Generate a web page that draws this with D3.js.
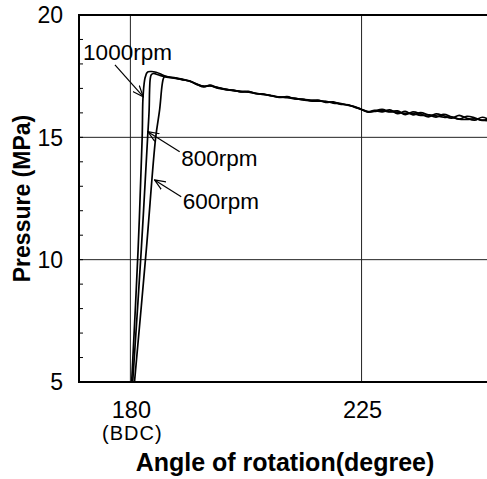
<!DOCTYPE html>
<html>
<head>
<meta charset="utf-8">
<script src="https://cdn.jsdelivr.net/npm/d3@7"></script>
<style>
  body { margin: 0; background: #fff; }
  svg { display: block; }
</style>
</head>
<body>
<svg id="chart"></svg>
<script>
const width = 487;
const height = 479;
const margins = { top: 15, right: -3, bottom: 97, left: 79 };

// x: angle of rotation (deg), y: pressure (MPa)
const xDomain = [170, 250];
const yDomain = [5, 20];
const xTicks = [180, 225];
const xTickSub = { 180: "(BDC)" };
const yTicks = [5, 10, 15, 20];
const xGrid = [180, 225];
const yGrid = [10, 15];

// readings: [angle, pressure]
const rpm1000 = [
  [180.25, 5.0], [181.5, 10.4], [182.3, 15.0], [182.45, 16.6], [182.77, 17.34],
  [182.96, 17.5], [183.16, 17.62], [183.45, 17.68], [184.1, 17.69], [185.0, 17.66],
  [186.0, 17.58], [187.0, 17.48], [188.5, 17.44], [190, 17.38], [191.5, 17.30],
  [193, 17.16], [194.3, 17.06], [195.5, 17.13], [196.8, 17.04], [198.5, 16.95],
  [200, 16.93], [201.5, 16.86], [203, 16.88], [204.5, 16.79], [206, 16.76],
  [207.5, 16.70], [209, 16.63], [210.5, 16.66], [212, 16.58], [213.5, 16.55],
  [215, 16.52], [216.5, 16.50], [218, 16.46], [219.5, 16.42], [221, 16.37],
  [222.5, 16.31], [224, 16.22], [225, 16.14], [226.3, 16.03], [227.5, 16.08],
  [229, 16.14], [230.5, 16.06], [232, 16.08], [233.5, 15.93], [235, 16.04],
  [236.5, 15.96], [238, 15.84], [239.5, 15.96], [241, 15.88], [242.5, 15.78],
  [244, 15.90], [245.5, 15.78], [247, 15.70], [248.5, 15.82], [250, 15.70]
];
const rpm800 = [
  [180.45, 5.0], [182.12, 10.4], [183.35, 14.97], [183.65, 16.12], [183.74, 16.94],
  [183.86, 17.38], [184.07, 17.56], [184.5, 17.61], [185.36, 17.56], [186.28, 17.50],
  [187.06, 17.46], [188.5, 17.42], [190, 17.37], [191.5, 17.29], [193, 17.18],
  [194.3, 17.08], [195.5, 17.11], [196.8, 17.02], [198.5, 16.97], [200, 16.91],
  [201.5, 16.88], [203, 16.85], [204.5, 16.80], [206, 16.74], [207.5, 16.71],
  [209, 16.65], [210.5, 16.62], [212, 16.60], [213.5, 16.53], [215, 16.50],
  [216.5, 16.52], [218, 16.43], [219.5, 16.45], [221, 16.35], [222.5, 16.33],
  [224, 16.20], [225, 16.15], [226.3, 16.05], [227.5, 16.10], [229, 16.04],
  [230.5, 16.12], [232, 15.97], [233.5, 16.06], [235, 15.92], [236.5, 16.01],
  [238, 15.92], [239.5, 15.83], [241, 15.94], [242.5, 15.84], [244, 15.75],
  [245.5, 15.86], [247, 15.80], [248.5, 15.69], [250, 15.78]
];
const rpm600 = [
  [180.8, 5.0], [183.1, 10.4], [184.91, 14.97], [185.69, 16.12], [186.18, 17.14],
  [186.47, 17.43], [186.76, 17.49], [187.3, 17.47], [188.5, 17.43], [190, 17.36],
  [191.5, 17.31], [193, 17.15], [194.3, 17.09], [195.5, 17.10], [196.8, 17.05],
  [198.5, 16.96], [200, 16.92], [201.5, 16.87], [203, 16.86], [204.5, 16.78],
  [206, 16.77], [207.5, 16.69], [209, 16.64], [210.5, 16.64], [212, 16.57],
  [213.5, 16.56], [215, 16.49], [216.5, 16.48], [218, 16.47], [219.5, 16.40],
  [221, 16.38], [222.5, 16.30], [224, 16.23], [225, 16.13], [226.3, 16.04],
  [227.5, 16.06], [229, 16.09], [230.5, 16.04], [232, 16.03], [233.5, 15.98],
  [235, 15.97], [236.5, 15.90], [238, 15.92], [239.5, 15.88], [241, 15.82],
  [242.5, 15.83], [244, 15.74], [245.5, 15.73], [247, 15.76], [248.5, 15.70],
  [250, 15.68]
];
const seriesNames = ["1000rpm", "800rpm", "600rpm"];
const seriesData = [rpm1000, rpm800, rpm600];

// label anchor, arrow tail and arrow tip, in data units
const labelAt = [[170.8, 18.16], [189.9, 13.83], [190.2, 12.07]];
const arrowFrom = [[177.0, 17.96], [189.6, 14.41], [189.9, 12.57]];
const arrowTo = [[182.5, 16.66], [183.4, 15.23], [184.7, 13.26]];

const font = "'Liberation Sans', Arial, Helvetica, sans-serif";

const svg = d3.select("#chart")
  .attr("width", width)
  .attr("height", height)
  .attr("viewBox", `0 0 ${width} ${height}`)
  .style("font-family", font);

const x = d3.scaleLinear()
  .domain(xDomain)
  .range([margins.left, width - margins.right]);

const y = d3.scaleLinear()
  .domain(yDomain)
  .range([height - margins.bottom, margins.top]);

svg.append("defs").append("clipPath")
  .attr("id", "plotClip")
  .append("rect")
  .attr("x", x.range()[0])
  .attr("y", y.range()[1])
  .attr("width", x.range()[1] - x.range()[0])
  .attr("height", y.range()[0] - y.range()[1]);

svg.select("defs").append("marker")
  .attr("id", "arrowHead")
  .attr("viewBox", "0 0 12 10")
  .attr("refX", 11)
  .attr("refY", 5)
  .attr("markerWidth", 12)
  .attr("markerHeight", 10)
  .attr("markerUnits", "userSpaceOnUse")
  .attr("orient", "auto")
  .append("path")
  .attr("d", "M0,0.5 L11,5 L0,9.5")
  .attr("fill", "none")
  .attr("stroke", "#000")
  .attr("stroke-width", 1.2);

// grid
svg.append("g")
  .selectAll("line")
  .data(xGrid)
  .join("line")
  .attr("x1", d => x(d)).attr("x2", d => x(d))
  .attr("y1", y(yDomain[0])).attr("y2", y(yDomain[1]))
  .attr("stroke", "#222")
  .attr("stroke-width", 1);

svg.append("g")
  .selectAll("line")
  .data(yGrid)
  .join("line")
  .attr("x1", x(xDomain[0])).attr("x2", x(xDomain[1]))
  .attr("y1", d => y(d)).attr("y2", d => y(d))
  .attr("stroke", "#222")
  .attr("stroke-width", 1);

// y minor ticks, pointing inward
svg.append("g")
  .selectAll("line")
  .data(d3.range(yDomain[0] + 1, yDomain[1]))
  .join("line")
  .attr("x1", x(xDomain[0])).attr("x2", x(xDomain[0]) + 4)
  .attr("y1", d => y(d)).attr("y2", d => y(d))
  .attr("stroke", "#000")
  .attr("stroke-width", 1);

// curves
const line = d3.line()
  .x(d => x(d[0]))
  .y(d => y(d[1]))
  .curve(d3.curveCatmullRom.alpha(0.5));

svg.append("g")
  .attr("clip-path", "url(#plotClip)")
  .selectAll("path")
  .data(seriesData)
  .join("path")
  .attr("d", line)
  .attr("fill", "none")
  .attr("stroke", "#000")
  .attr("stroke-width", 1.7)
  .attr("stroke-linejoin", "round");

// frame: left, top, bottom
const x0 = x(xDomain[0]), x1 = x(xDomain[1]);
const y0 = y(yDomain[0]), y1 = y(yDomain[1]);
svg.append("path")
  .attr("d", `M${x1},${y1} H${x0} V${y0} H${x1}`)
  .attr("fill", "none")
  .attr("stroke", "#000")
  .attr("stroke-width", 2);

// tick labels
svg.append("g")
  .selectAll("text")
  .data(yTicks)
  .join("text")
  .attr("x", x0 - 16)
  .attr("y", d => y(d))
  .attr("dy", "0.36em")
  .attr("text-anchor", "end")
  .attr("font-size", 23)
  .text(d => d);

const xLab = svg.append("g")
  .selectAll("g")
  .data(xTicks)
  .join("g")
  .attr("transform", d => `translate(${x(d) + 1},0)`);

xLab.append("text")
  .attr("y", y0 + 36)
  .attr("text-anchor", "middle")
  .attr("font-size", 23.5)
  .text(d => d);

xLab.filter(d => xTickSub[d])
  .append("text")
  .attr("x", 1)
  .attr("y", y0 + 58)
  .attr("text-anchor", "middle")
  .attr("font-size", 20)
  .attr("letter-spacing", 1)
  .text(d => xTickSub[d]);

// axis titles
svg.append("text")
  .attr("x", 285)
  .attr("y", 471)
  .attr("text-anchor", "middle")
  .attr("font-size", 25)
  .attr("font-weight", "bold")
  .text("Angle of rotation(degree)");

svg.append("text")
  .attr("transform", `translate(30,${(y0 + y1) / 2}) rotate(-90)`)
  .attr("text-anchor", "middle")
  .attr("font-size", 23)
  .attr("font-weight", "bold")
  .text("Pressure (MPa)");

// annotations
const notes = svg.append("g");
notes.selectAll("line")
  .data(seriesNames)
  .join("line")
  .attr("x1", (d, i) => x(arrowFrom[i][0]))
  .attr("y1", (d, i) => y(arrowFrom[i][1]))
  .attr("x2", (d, i) => x(arrowTo[i][0]))
  .attr("y2", (d, i) => y(arrowTo[i][1]))
  .attr("stroke", "#000")
  .attr("stroke-width", 1.2)
  .attr("marker-end", "url(#arrowHead)");

notes.selectAll("text")
  .data(seriesNames)
  .join("text")
  .attr("x", (d, i) => x(labelAt[i][0]))
  .attr("y", (d, i) => y(labelAt[i][1]))
  .attr("font-size", 22.5)
  .text(d => d);
</script>
</body>
</html>
